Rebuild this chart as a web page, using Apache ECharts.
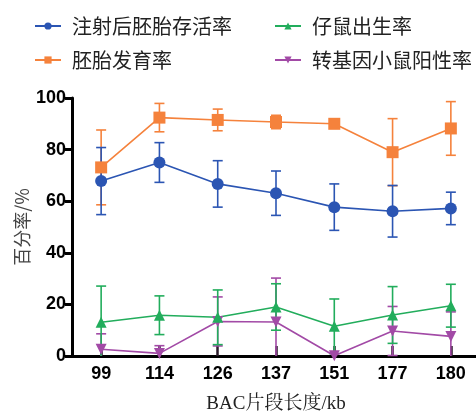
<!DOCTYPE html>
<html>
<head>
<meta charset="utf-8">
<script src="https://cdn.jsdelivr.net/npm/echarts@6/dist/echarts.min.js"></script>
<style>
  html, body { margin: 0; padding: 0; background: #fff; }
  #chart { width: 476px; height: 413px; }
</style>
</head>
<body>
<div id="chart"></div>
<script>
// BAC fragment lengths (kb)
const categories = ['99', '114', '126', '137', '151', '177', '180'];

// Mean values (%) and their error ranges
const survival = [67.8, 75.0, 66.7, 63.1, 57.7, 56.1, 57.2];
const survivalErr = [13.0, 7.7, 9.0, 8.6, 9.0, 10.0, 6.3];

const development = [73.1, 92.4, 91.5, 90.7, 90.0, 79.0, 88.2];
const developmentErr = [14.5, 5.5, 4.2, 2.6, 1.0, 13.0, 10.4];

const birth = [13.1, 15.8, 15.0, 19.0, 11.5, 15.9, 19.5];
const birthErr = [14.0, 7.5, 10.6, 9.0, 10.6, 11.0, 8.3];

const positive = [2.6, 1.0, 13.4, 13.2, 0.1, 9.7, 7.6];
const positiveErr = [6.0, 3.0, 9.5, 17.0, 0, 9.5, 9.5];

const seriesNames = ['注射后胚胎存活率', '胚胎发育率', '仔鼠出生率', '转基因小鼠阳性率'];
const colors = ['#2b55b3', '#f5823c', '#22ad5c', '#a24aa6'];

const cjk = '"Noto Sans CJK SC", "Noto Sans", sans-serif';

// Vertical error bars with caps, placed through the axis scales
function errorBars(key, means, errs, color) {
  return {
    type: 'custom',
    id: 'err-' + key,
    z: 3,
    silent: true,
    data: means.map((m, i) => [i, m, errs[i]]),
    renderItem: function (params, api) {
      const x = api.value(0);
      const m = api.value(1);
      const e = api.value(2);
      if (!e) return null;
      const lo = Math.max(0, m - e);
      const hi = m + e;
      const pHi = api.coord([x, hi]);
      const pLo = api.coord([x, lo]);
      const half = 5;
      const style = { stroke: color, lineWidth: 1.6, fill: null };
      const children = [
        { type: 'line', shape: { x1: pHi[0], y1: pHi[1], x2: pLo[0], y2: pLo[1] }, style: style },
        { type: 'line', shape: { x1: pHi[0] - half, y1: pHi[1], x2: pHi[0] + half, y2: pHi[1] }, style: style }
      ];
      if (m - e > 0) {
        children.push({ type: 'line', shape: { x1: pLo[0] - half, y1: pLo[1], x2: pLo[0] + half, y2: pLo[1] }, style: style });
      }
      return { type: 'group', children: children };
    }
  };
}

function lineSeries(name, data, color, symbol, size, rotate) {
  return {
    type: 'line',
    name: name,
    data: data,
    z: 4,
    symbol: symbol,
    symbolSize: size,
    symbolRotate: rotate || 0,
    showAllSymbol: true,
    lineStyle: { color: color, width: 1.6 },
    itemStyle: { color: color },
    emphasis: { disabled: true }
  };
}

const chart = echarts.init(document.getElementById('chart'));
const legendText = { fontFamily: cjk, fontSize: 20, color: '#222', padding: [0, 0, 0, 6] };

const legendBase = {
  orient: 'vertical', top: 11, itemGap: 14,
  itemWidth: 26, itemHeight: 9,
  textStyle: legendText
};

chart.setOption({
  animation: false,
  legend: [
    Object.assign({ data: [seriesNames[0], seriesNames[1]], left: 29 }, legendBase),
    Object.assign({ data: [seriesNames[2], seriesNames[3]], left: 269 }, legendBase)
  ],
  grid: { left: 72, top: 98, width: 408, bottom: 57, containLabel: false, outerBoundsMode: 'none' },
  xAxis: {
    type: 'category',
    data: categories,
    boundaryGap: true,
    name: 'BAC片段长度/kb',
    nameLocation: 'middle',
    nameGap: 39,
    nameMoveOverlap: false,
    nameTextStyle: { fontFamily: '"Liberation Serif", "Noto Serif CJK SC", "Noto Sans CJK SC", serif', fontSize: 19, color: '#222' },
    axisLine: { lineStyle: { color: '#000', width: 3 } },
    axisTick: { show: true, inside: true, alignWithLabel: true, length: 10, lineStyle: { color: '#2a1a2a', width: 2.5 } },
    axisLabel: { fontFamily: '"Liberation Sans", Arial, sans-serif', fontWeight: 'bold', fontSize: 18, color: '#000', margin: 9 },
    splitLine: { show: false }
  },
  yAxis: {
    type: 'value',
    min: 0, max: 100, interval: 20,
    name: '百分率/%',
    nameLocation: 'middle',
    nameGap: 41,
    nameMoveOverlap: false,
    nameTextStyle: { fontFamily: cjk, fontSize: 18, color: '#444' },
    axisLine: { show: true, lineStyle: { color: '#000', width: 3 } },
    axisTick: { show: true, length: 7, lineStyle: { color: '#000', width: 3 } },
    axisLabel: { fontFamily: '"Liberation Sans", Arial, sans-serif', fontWeight: 'bold', fontSize: 18, color: '#000', margin: 6 },
    splitLine: { show: false }
  },
  series: [
    lineSeries(seriesNames[3], positive, colors[3], 'triangle', 11, 180),
    lineSeries(seriesNames[2], birth, colors[2], 'triangle', 11),
    lineSeries(seriesNames[1], development, colors[1], 'rect', 12),
    lineSeries(seriesNames[0], survival, colors[0], 'circle', 12),
    errorBars('positive', positive, positiveErr, colors[3]),
    errorBars('birth', birth, birthErr, colors[2]),
    errorBars('development', development, developmentErr, colors[1]),
    errorBars('survival', survival, survivalErr, colors[0])
  ]
});
</script>
</body>
</html>
